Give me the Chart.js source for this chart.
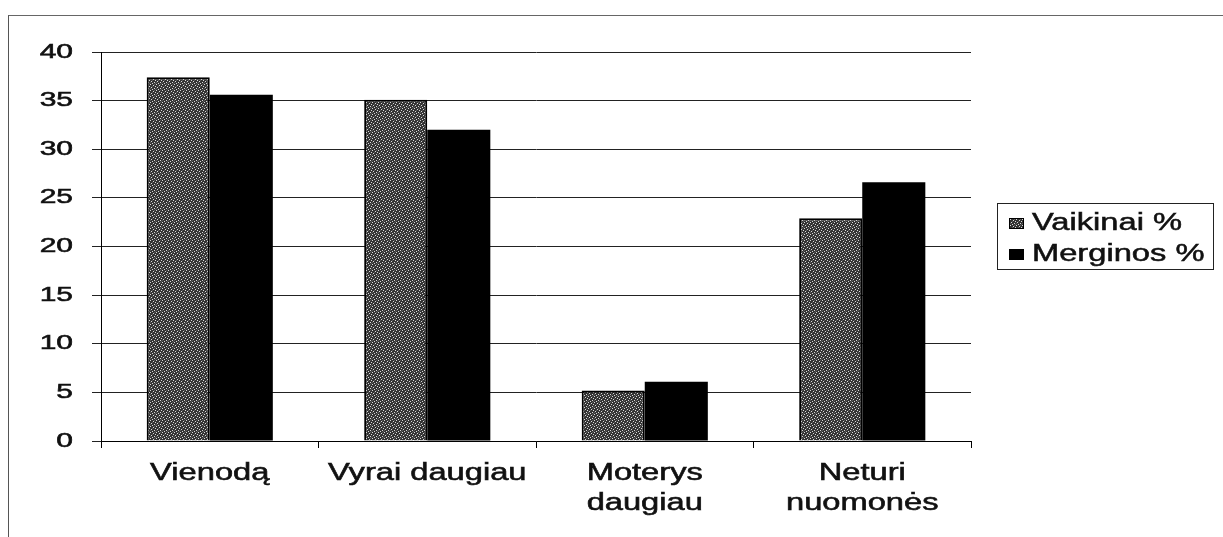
<!DOCTYPE html>
<html>
<head>
<meta charset="utf-8">
<script src="https://cdn.jsdelivr.net/npm/chart.js@4.4.1/dist/chart.umd.min.js"></script>
<style>
  html,body{margin:0;padding:0;background:#fff;}
  #wrap{position:relative;width:1223px;height:537px;overflow:hidden;}
  #frame{position:absolute;left:8px;top:15px;right:-2px;bottom:-2px;border-left:1px solid #555;border-top:1px solid #666;}
  canvas{position:absolute;left:0;top:0;}
  #legend{position:absolute;left:997px;top:203px;width:217px;height:67px;border:1px solid #222;box-sizing:border-box;
    font-family:"Liberation Sans",Arial,sans-serif;font-size:23px;color:#111;-webkit-text-stroke:0.5px #111;}
  .item{position:absolute;left:11px;height:28px;line-height:28px;white-space:nowrap;}
  .mk{display:inline-block;width:15px;height:11px;margin-right:8px;vertical-align:1px;box-sizing:border-box;}
  .tx{display:inline-block;transform:scaleX(1.42);transform-origin:0 50%;}
</style>
</head>
<body>
<div id="wrap">
  <div id="frame"></div>
  <canvas id="c" width="1223" height="537"></canvas>
  <div id="legend">
    <div class="item" style="top:4px"><span class="mk" id="mk1"></span><span class="tx" id="lg1"></span></div>
    <div class="item" style="top:35px"><span class="mk" id="mk2" style="background:#000"></span><span class="tx" id="lg2"></span></div>
  </div>
</div>
<script>
// ---- data ----
const categories = ['Vienodą', 'Vyrai daugiau', ['Moterys', 'daugiau'], ['Neturi', 'nuomonės']];
const seriesNames = ['Vaikinai %', 'Merginos %'];
const vaikinai = [37.4, 35.1, 5.2, 22.9];
const merginos = [35.6, 32.0, 6.1, 26.6];
const yTicks = [0, 5, 10, 15, 20, 25, 30, 35, 40];

document.getElementById('lg1').textContent = seriesNames[0];
document.getElementById('lg2').textContent = seriesNames[1];

// ---- stipple pattern (style only) ----
const tile = document.createElement('canvas');
tile.width = 6; tile.height = 6;
const tctx = tile.getContext('2d');
tctx.fillStyle = '#333333'; tctx.fillRect(0, 0, 6, 6);
const lightDots = [[0,0],[3,1],[1,3],[4,4],[5,2],[2,5]];
const midDots = [[2,2],[5,5],[0,4],[4,0]];
tctx.fillStyle = '#d8d8d8'; lightDots.forEach(p => tctx.fillRect(p[0], p[1], 1, 1));
tctx.fillStyle = '#5a5a5a'; midDots.forEach(p => tctx.fillRect(p[0], p[1], 1, 1));
const ctx = document.getElementById('c').getContext('2d');
const stipple = ctx.createPattern(tile, 'repeat');
const mk1 = document.getElementById('mk1');
mk1.style.backgroundImage = 'url(' + tile.toDataURL() + ')';
mk1.style.border = '1px solid #000';

// horizontal stretch of tick label glyphs (the reference font is wide and heavy)
const stretch = { x: 1.42, y: 1.5 };
const nativeFill = CanvasRenderingContext2D.prototype.fillText;
const nativeStroke = CanvasRenderingContext2D.prototype.strokeText;
const stretchPlugin = {
  id: 'stretch',
  beforeDraw(chart) {
    Object.keys(stretch).forEach(id => {
      const s = chart.scales[id];
      if (s && !s._stretched) {
        const orig = s.drawLabels.bind(s);
        s.drawLabels = function (area) {
          const c = this.ctx;
          const sx = stretch[id];
          c.fillText = function (t, x, y) {
            this.save();
            this.translate(x, y);
            this.scale(sx, 1);
            nativeFill.call(this, t, 0, 0);
            this.strokeStyle = this.fillStyle;
            this.lineWidth = 0.55;
            nativeStroke.call(this, t, 0, 0);
            this.restore();
          };
          try { orig(area); } finally { delete c.fillText; }
        };
        s._stretched = true;
      }
    });
  }
};

new Chart(ctx, {
  type: 'bar',
  data: {
    labels: categories,
    datasets: [
      { label: seriesNames[0], data: vaikinai, backgroundColor: stipple, borderColor: '#000', borderWidth: 2, borderSkipped: 'start' },
      { label: seriesNames[1], data: merginos, backgroundColor: '#000', borderColor: '#000', borderWidth: 0 }
    ]
  },
  options: {
    responsive: false,
    animation: false,
    layout: { padding: { left: 0, top: 52, right: 252, bottom: 0 } },
    datasets: { bar: { categoryPercentage: 0.58, barPercentage: 1.0 } },
    plugins: { legend: { display: false }, tooltip: { enabled: false } },
    scales: {
      x: {
        afterFit(s) { s.height = 96; },
        grid: { display: true, drawOnChartArea: false, drawTicks: true, tickLength: 7, color: '#000', lineWidth: 1, offset: true },
        border: { display: true, color: '#000', width: 1 },
        ticks: {
          color: '#111', padding: 11,
          font: { family: '"Liberation Sans", Arial, sans-serif', size: 23, lineHeight: 1.3 },
          maxRotation: 0, autoSkip: false
        }
      },
      y: {
        min: 0, max: 40,
        afterFit(s) { s.width = 101; },
        afterBuildTicks(s) { s.ticks = yTicks.map(v => ({ value: v })); },
        grid: { color: '#222', lineWidth: 1, drawTicks: true, tickLength: 9 },
        border: { display: true, color: '#000', width: 1 },
        ticks: {
          color: '#111', padding: 19,
          font: { family: '"Liberation Sans", Arial, sans-serif', size: 20 }
        }
      }
    }
  },
  plugins: [stretchPlugin]
});
</script>
</body>
</html>
